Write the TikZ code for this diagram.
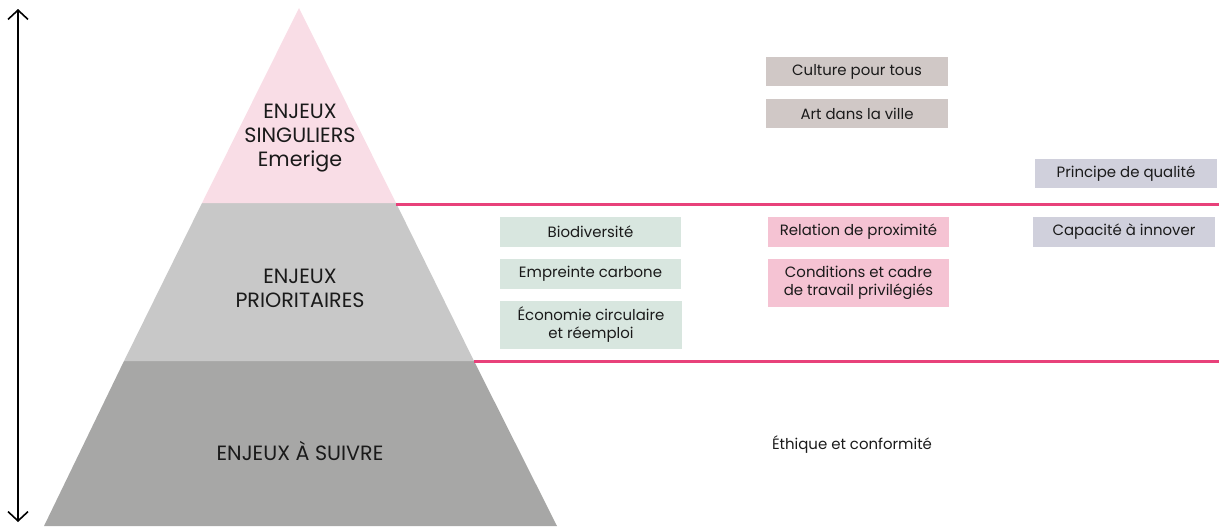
\documentclass[tikz,border=0pt]{standalone}
\usepackage{fontspec}
\setmainfont{Poppins}
\usetikzlibrary{arrows.meta}
\definecolor{pinktop}{HTML}{F9DDE6}
\definecolor{greymid}{HTML}{C8C8C8}
\definecolor{greybot}{HTML}{A7A7A6}
\definecolor{linepink}{HTML}{E8417A}
\definecolor{boxtaupe}{HTML}{D0C8C6}
\definecolor{boxlav}{HTML}{D0D0DC}
\definecolor{boxgreen}{HTML}{D8E6DF}
\definecolor{boxpink}{HTML}{F5C3D3}
\definecolor{txt}{HTML}{1A1A1A}
\tikzset{
  tag/.style={fill=#1, text=txt, font=\fontsize{11.2}{13.5}\selectfont, align=center,
    minimum width=136pt, minimum height=22pt, inner sep=1pt},
  tagtall/.style={tag=#1, minimum height=35.5pt},
  layer/.style={text=txt, font=\fontsize{15.5}{18}\selectfont, align=center},
  sep/.style={draw=linepink, line width=1.6pt},
  axis/.style={draw=black, line width=1.2pt, {Straight Barb[length=7pt,width=15pt]}-{Straight Barb[length=7pt,width=15pt]}}
}
\begin{document}
\begin{tikzpicture}[x=0.75pt,y=-0.75pt]
\useasboundingbox (0,0) rectangle (1219,526);
% pyramid
\fill[greybot] (124,361) -- (474,361) -- (557,526) -- (44,526) -- cycle;
\fill[greymid] (202,203) -- (396,203) -- (474,361) -- (124,361) -- cycle;
\fill[pinktop] (299,8) -- (396,203) -- (202,203) -- cycle;
% separators
\coordinate (s1a) at (396,204.5);
\coordinate (s1b) at (1219,204.5);
\coordinate (s2a) at (474,361.5);
\coordinate (s2b) at (1219,361.5);
\draw[sep] (s1a) -- (s1b);
\draw[sep] (s2a) -- (s2b);
% axis
\coordinate (axtop) at (18,9);
\coordinate (axbot) at (18,522);
\draw[axis] (axtop) -- (axbot);
% layer labels
\node[layer] (l1) at (300,138) {ENJEUX\\SINGULIERS\\Emerige};
\node[layer] (l2) at (300,288) {ENJEUX\\PRIORITAIRES};
\node[layer] (l3) at (300,451) {ENJEUX À SUIVRE};
% boxes
\node[tag=boxtaupe] (b1) at (857,71.5) {Culture pour tous};
\node[tag=boxtaupe] (b2) at (857,113.5) {Art dans la ville};
\node[tag=boxlav] (b3) at (1126,173.5) {Principe de qualité};
\node[tag=boxgreen] (b4) at (590.5,232) {Biodiversité};
\node[tag=boxgreen] (b5) at (590.5,274) {Empreinte carbone};
\node[tagtall=boxgreen] (b6) at (591,325) {Économie circulaire\\et réemploi};
\node[tag=boxpink] (b7) at (858.5,232) {Relation de proximité};
\node[tagtall=boxpink] (b8) at (858.5,283) {Conditions et cadre\\de travail privilégiés};
\node[tag=boxlav] (b9) at (1124,232) {Capacité à innover};
\node[text=txt, font=\fontsize{11.2}{13.5}\selectfont] (b10) at (852,445) {Éthique et conformité};
\end{tikzpicture}
\end{document}
